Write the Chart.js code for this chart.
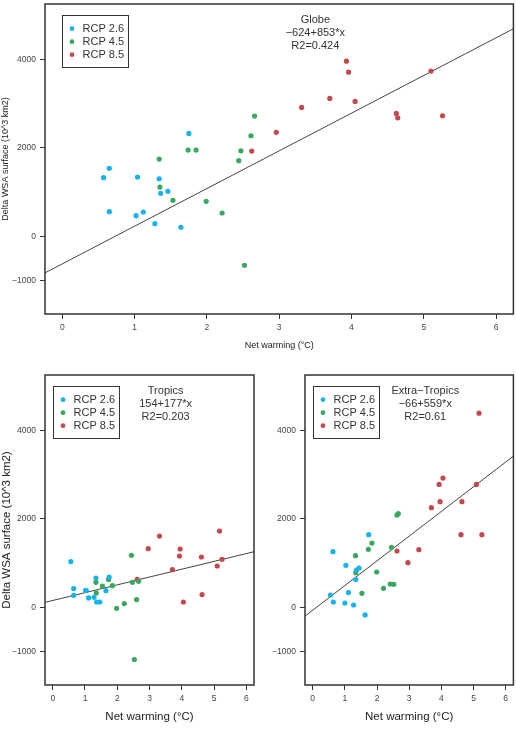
<!DOCTYPE html>
<html>
<head>
<meta charset="utf-8">
<script src="https://cdn.jsdelivr.net/npm/chart.js@4/dist/chart.umd.min.js"></script>
<style>
  body { margin: 0; background: #fff; }
  #wrap { position: relative; width: 516px; height: 729px; }
  canvas { position: absolute; }
</style>
</head>
<body>
<div id="wrap">
  <canvas id="globe" width="516" height="360" style="left:0;top:0"></canvas>
  <canvas id="tropics" width="258" height="369" style="left:0;top:360px"></canvas>
  <canvas id="extra" width="258" height="369" style="left:258px;top:360px"></canvas>
</div>
<script>
// axis setup
var xMin = -0.24, xMax = 6.24;
var yMin = -1760, yMax = 5260;
var xTicks = [0, 1, 2, 3, 4, 5, 6];
var yTicks = [-1000, 0, 2000, 4000];

var seriesNames = ['RCP 2.6', 'RCP 4.5', 'RCP 8.5'];
var seriesColors = ['#17b3ea', '#3aa75e', '#c4494f'];

// Globe  [net warming, delta WSA]
var globe26 = [[1.75,2330],[0.57,1326],[0.65,1538],[1.04,1341],[1.34,1303],[1.46,1018],[1.36,973],[0.65,557],[1.12,550],[1.02,466],[1.28,285],[1.64,204]];
var globe45 = [[1.34,1749],[1.74,1953],[1.85,1953],[2.44,1711],[2.47,1937],[2.61,2277],[2.66,2722],[1.35,1115],[1.53,814],[1.99,791],[2.21,527],[2.52,-656]];
var globe85 = [[2.62,1930],[2.96,2353],[3.31,2919],[3.70,3122],[3.93,3966],[3.96,3717],[4.05,3054],[4.62,2783],[4.64,2683],[5.10,3740],[5.26,2729]];

// Tropics
var trop26 = [[0.56,1034],[0.65,423],[0.65,271],[1.02,385],[1.04,380],[1.34,663],[1.75,686],[1.65,377],[1.11,211],[1.28,226],[1.36,120],[1.46,120]];
var trop45 = [[2.44,1176],[1.34,566],[1.73,627],[1.54,482],[1.85,490],[1.35,324],[2.47,566],[2.66,588],[2.60,174],[2.22,84],[1.98,-23],[2.53,-1183]];
var trop85 = [[3.31,1613],[2.96,1327],[3.95,1320],[3.93,1161],[4.61,1139],[5.17,1727],[5.25,1086],[5.10,935],[3.71,852],[2.62,633],[4.63,287],[4.05,120]];

// Extra-tropics
var extra26 = [[0.63,1260],[1.74,1645],[1.03,950],[1.44,889],[1.36,844],[1.34,627],[0.55,278],[0.64,120],[1.11,332],[1.00,97],[1.27,52],[1.63,-174]];
var extra45 = [[2.62,2089],[2.66,2119],[1.84,1455],[1.73,1312],[2.45,1357],[1.33,1169],[1.34,784],[1.99,799],[2.41,527],[2.52,520],[2.20,430],[1.53,317]];
var extra85 = [[5.17,4396],[4.05,2926],[3.93,2783],[5.09,2783],[3.96,2391],[4.64,2391],[3.69,2255],[4.61,1645],[5.26,1645],[3.30,1305],[2.62,1274],[2.96,1011]];

// fits: intercept, slope
var globeFit = [-624, 853];
var tropFit = [154, 177];
var extraFit = [-66, 559];

var globeText = ['Globe', '\u2212624+853*x', 'R2=0.424'];
var tropText = ['Tropics', '154+177*x', 'R2=0.203'];
var extraText = ['Extra\u2212Tropics', '\u221266+559*x', 'R2=0.61'];

var FONT = "'Liberation Sans', Arial, sans-serif";

function fmt(v) {
    return v < 0 ? '\u2212' + Math.abs(v) : String(v);
}

var panelPlugin = {
    id: 'panel',
    afterDraw: function(chart) {
        var o = chart.options.plugins.panel;
        var ctx = chart.ctx;
        var a = chart.chartArea;
        var xs = chart.scales.x;
        ctx.save();
        // box round the plot
        ctx.strokeStyle = '#333';
        ctx.lineWidth = 1.5;
        ctx.strokeRect(a.left, a.top, a.right - a.left, a.bottom - a.top);

        // legend
        var lx = Math.round(xs.getPixelForValue(0)) + 0.5;
        var ly = Math.round(a.top + 11) + 0.5;
        ctx.lineWidth = 1;
        ctx.strokeRect(lx, ly, 66, 52);
        ctx.font = '11px ' + FONT;
        ctx.textBaseline = 'middle';
        ctx.textAlign = 'left';
        for (var i = 0; i < 3; i++) {
            var ds = chart.data.datasets[i];
            var ry = ly + 13.2 + i * 13;
            ctx.fillStyle = ds.backgroundColor;
            ctx.beginPath();
            ctx.arc(lx + 9.5, ry, 2.4, 0, Math.PI * 2);
            ctx.fill();
            ctx.fillStyle = '#333';
            ctx.fillText(ds.label, lx + 20, ry);
        }

        // fit text
        ctx.textAlign = 'center';
        var cx = xs.getPixelForValue(3.5);
        for (var j = 0; j < o.text.length; j++) {
            ctx.fillText(o.text[j], cx, a.top + 16.3 + j * 13);
        }
        ctx.restore();
    }
};

function toPts(arr) {
    return arr.map(function(p) { return {x: p[0], y: p[1]}; });
}

function makePanel(id, series, fit, text, cfg) {
    var datasets = series.map(function(s, i) {
        return {
            label: seriesNames[i],
            data: toPts(s),
            backgroundColor: seriesColors[i],
            borderWidth: 0,
            pointRadius: 2.6,
            pointHoverRadius: 2.6
        };
    });
    datasets.push({
        type: 'line',
        label: 'fit',
        data: [{x: xMin, y: fit[0] + fit[1] * xMin}, {x: xMax, y: fit[0] + fit[1] * xMax}],
        borderColor: '#444',
        borderWidth: 1,
        pointRadius: 0,
        fill: false
    });

    var tickFont = {family: FONT, size: 8.5};
    return new Chart(document.getElementById(id), {
        type: 'scatter',
        data: {datasets: datasets},
        plugins: [panelPlugin],
        options: {
            responsive: false,
            animation: false,
            events: [],
            layout: {padding: {top: cfg.top, right: cfg.right, left: 0, bottom: 0}},
            plugins: {
                legend: {display: false},
                tooltip: {enabled: false},
                panel: {text: text}
            },
            scales: {
                x: {
                    type: 'linear',
                    min: xMin,
                    max: xMax,
                    afterBuildTicks: function(s) { s.ticks = xTicks.map(function(v) { return {value: v}; }); },
                    afterFit: function(s) {
                        s.height = cfg.xH;
                        s.paddingLeft = 0; s.paddingRight = 0;
                    },
                    grid: {drawOnChartArea: false, drawTicks: true, tickLength: 5, color: '#333', lineWidth: 1},
                    border: {display: false},
                    ticks: {font: tickFont, color: '#444', padding: 4, maxRotation: 0, callback: fmt},
                    title: {display: true, text: 'Net warming (\u00B0C)', color: '#222',
                        font: {family: FONT, size: cfg.xTitleSize}, padding: {top: 0, bottom: cfg.xTitlePad}}
                },
                y: {
                    type: 'linear',
                    min: yMin,
                    max: yMax,
                    afterBuildTicks: function(s) { s.ticks = yTicks.map(function(v) { return {value: v}; }); },
                    afterFit: function(s) {
                        s.width = cfg.yW;
                        s.paddingTop = 0; s.paddingBottom = 0;
                    },
                    grid: {drawOnChartArea: false, drawTicks: true, tickLength: 5, color: '#333', lineWidth: 1},
                    border: {display: false},
                    ticks: {font: tickFont, color: '#444', padding: 4, callback: fmt},
                    title: {display: cfg.yTitle, text: 'Delta WSA surface (10^3 km2)', color: '#222',
                        font: {family: FONT, size: cfg.yTitleSize}, padding: {top: 0, bottom: 0}}
                }
            }
        }
    });
}

makePanel('globe', [globe26, globe45, globe85], globeFit, globeText,
    {top: 4, right: 2, xH: 46, yW: 45, xTitleSize: 9, xTitlePad: 9, yTitle: true, yTitleSize: 9});
makePanel('tropics', [trop26, trop45, trop85], tropFit, tropText,
    {top: 15, right: 4, xH: 44, yW: 45, xTitleSize: 11.5, xTitlePad: 5, yTitle: true, yTitleSize: 11.5});
makePanel('extra', [extra26, extra45, extra85], extraFit, extraText,
    {top: 15, right: 1, xH: 44, yW: 47, xTitleSize: 11.5, xTitlePad: 5, yTitle: false, yTitleSize: 11.5});
</script>
</body>
</html>
